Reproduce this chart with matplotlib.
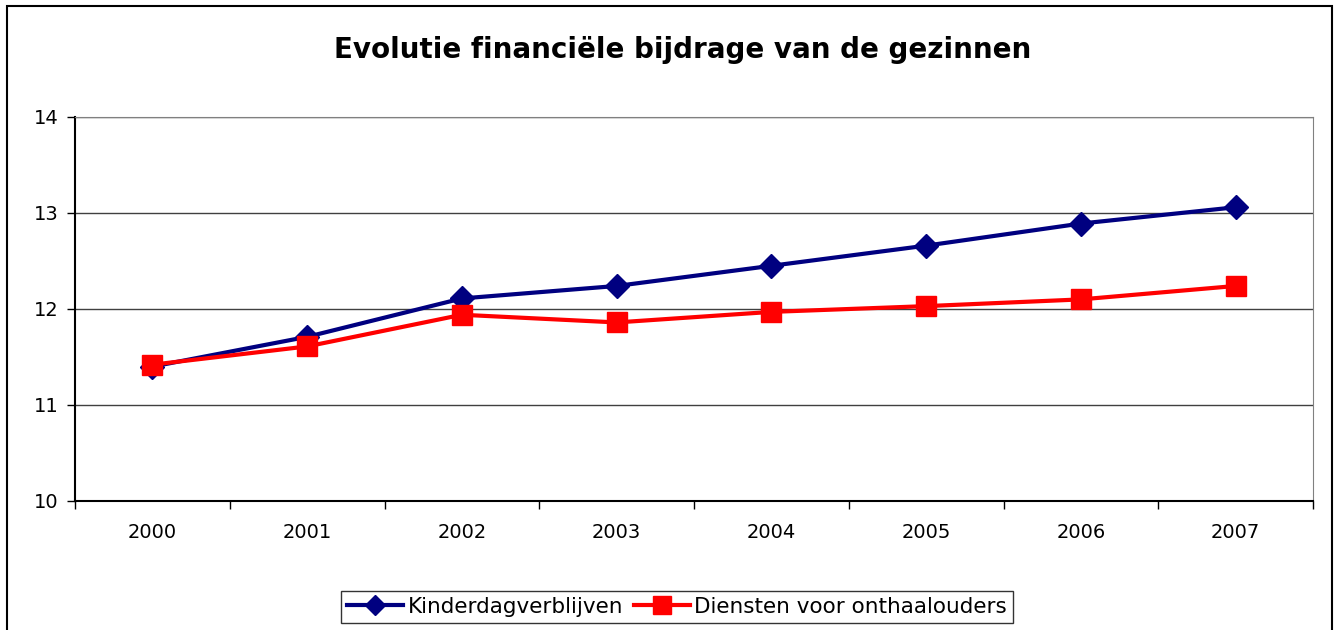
import matplotlib
matplotlib.use("Agg")
import matplotlib.pyplot as plt
from matplotlib.patches import Rectangle

years = ["2000", "2001", "2002", "2003", "2004", "2005", "2006", "2007"]
kinderdag = [11.40, 11.71, 12.11, 12.24, 12.45, 12.66, 12.89, 13.06]
diensten = [11.42, 11.61, 11.94, 11.86, 11.97, 12.03, 12.10, 12.24]
series_labels = ["Kinderdagverblijven", "Diensten voor onthaalouders"]
title = "Evolutie financiële bijdrage van de gezinnen"

plt.rcParams['font.family'] = ['DejaVu Sans']

fig = plt.figure(figsize=(13.4, 6.3), dpi=100)
fig.patches.append(Rectangle((7/1340, -0.1), (1332-7)/1340, 1.1 - 6/630,
                             transform=fig.transFigure, fill=False,
                             edgecolor='black', linewidth=1.5))

ax = fig.add_axes([75/1340, 1 - 501/630, (1313-75)/1340, (501-117)/630])
x = list(range(len(years)))
ax.plot(x, kinderdag, color='#000080', linewidth=3, marker='D', markersize=12.5,
        label=series_labels[0], zorder=3)
ax.plot(x, diensten, color='#FF0000', linewidth=3, marker='s', markersize=15,
        label=series_labels[1], zorder=4)

ax.set_xlim(-0.5, len(years) - 0.5)
ax.set_ylim(10, 14)
ax.set_yticks([10, 11, 12, 13, 14])
ax.set_xticks(x)
ax.set_xticklabels(years)
ax.set_xticks([i - 0.5 for i in range(len(years) + 1)], minor=True)
ax.tick_params(axis='x', which='major', length=0, pad=16, labelsize=14)
ax.tick_params(axis='x', which='minor', length=6, direction='out', width=1)
ax.tick_params(axis='y', length=6, direction='out', width=1, labelsize=14, pad=6)
ax.yaxis.grid(True, color='#404040', linewidth=1)
ax.set_axisbelow(True)
for s in ['top', 'right']:
    ax.spines[s].set_color('#808080')
ax.spines['left'].set_color('black')
ax.spines['bottom'].set_color('black')
ax.spines['left'].set_linewidth(1.5)
ax.spines['bottom'].set_linewidth(1.5)

fig.text(683/1340, 1 - 50/630, title, ha='center', va='center',
         fontsize=20, fontweight='bold')

leg = fig.legend(loc='center', bbox_to_anchor=(677/1340, 1 - 607/630),
                 ncol=2, fontsize=15.5, frameon=True, fancybox=False,
                 edgecolor='black', handlelength=2.6, handletextpad=0.2,
                 columnspacing=0.5, borderpad=0.3, borderaxespad=0,
                 markerscale=0.85)
leg.get_frame().set_linewidth(1)

fig.savefig("out.png", dpi=100)
